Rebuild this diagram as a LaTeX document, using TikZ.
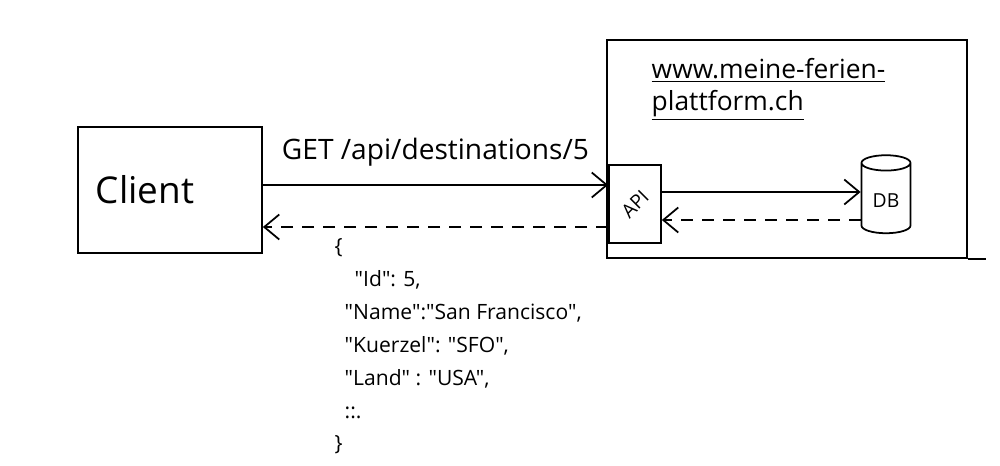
\documentclass[tikz,border=0pt]{standalone}
\usepackage{fontspec}
\usepackage{graphicx}
\setmainfont{Open Sans}[Ligatures=TeXOff]
\usetikzlibrary{calc,arrows.meta,shapes.geometric}
\tikzset{>={Straight Barb[length=3mm,width=5mm]}}
\tikzset{box/.style={draw,line width=1pt,inner sep=0pt},
         back/.style={->,dash pattern=on 2.4mm off 1.8mm}}

\begin{document}
\begin{tikzpicture}[x=0.2mm,y=-0.2mm,line width=1pt]
\useasboundingbox (0,0) rectangle (1000,466);
\node[box,minimum width=36.8mm,minimum height=25.2mm,
      font=\fontsize{21}{25}\selectfont] (client) at (170,190) {Client\hspace*{10mm}\mbox{}};
\node[box,minimum width=72mm,minimum height=43.6mm] (srv) at (787,149) {};
\draw (srv.south east) -- ++(18,0);
\node[anchor=north west,align=left,font=\fontsize{15}{18}\selectfont] (url) at (645,52)
    {\underline{www.meine-ferien-}\\\underline{plattform.ch}};
\node[box,minimum width=10.4mm,minimum height=15.6mm,font=\fontsize{11}{13}\selectfont]
    (api) at (635,204) {\rotatebox{45}{API}};
\node[draw,cylinder,shape border rotate=90,aspect=0.4,minimum width=9.8mm,
      minimum height=15.6mm,font=\fontsize{11}{13}\selectfont] (db) at (886,201) {DB};
% request and answer
\draw[->] ($(client.east)+(0,-5)$) -- ($(client.east -| api.west)+(0,-5)$)
    node[midway,above=2.5mm,font=\fontsize{16}{19}\selectfont] (get) {GET /api/destinations/5};
\draw[back] ($(api.west)+(0,23)$) -- ($(api.west -| client.east)+(0,23)$);
\draw[->] ($(api.east)+(0,-12)$) -- ($(api.east -| db.west)+(0,-12)$);
\draw[back] ($(api.east -| db.west)+(0,16)$) -- ($(api.east)+(0,16)$);
\node[anchor=north west,align=left,font=\fontsize{12}{18.7}\selectfont] (json) at (328,232)
    {\{\\
     \hspace*{4mm}"Id": 5,\\
     \hspace*{2mm}"Name":"San Francisco",\\
     \hspace*{2mm}"Kuerzel": "SFO",\\
     \hspace*{2mm}"Land" : "USA",\\
     \hspace*{2mm}::.\\
     \}};
\end{tikzpicture}
\end{document}
